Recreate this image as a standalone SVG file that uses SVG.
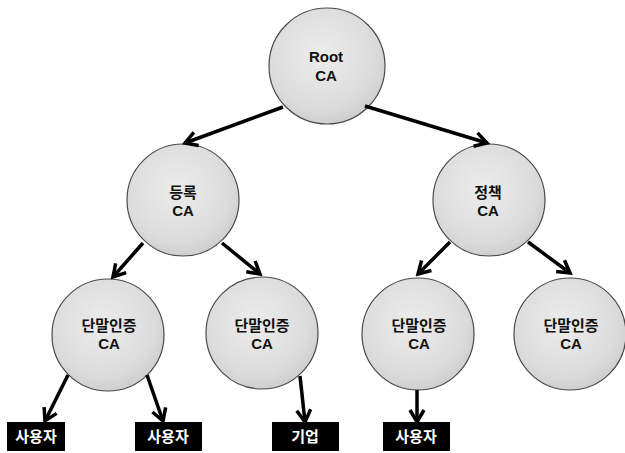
<svg xmlns="http://www.w3.org/2000/svg" width="625" height="453" viewBox="0 0 625 453">
<defs>
<radialGradient id="g" cx="0.45" cy="0.4" r="0.65">
<stop offset="0" stop-color="#ececec"/>
<stop offset="0.7" stop-color="#dcdcdc"/>
<stop offset="1" stop-color="#cbcbcb"/>
</radialGradient>
<marker id="ah" markerUnits="userSpaceOnUse" viewBox="0 0 18 18" markerWidth="18" markerHeight="18" refX="15" refY="9" orient="auto">
<path d="M3,2 L15,9 L3,16" fill="none" stroke="#000" stroke-width="3.5" stroke-linejoin="miter"/>
</marker>
</defs>
<style>
.node circle{fill:url(#g);stroke:#4a4a4a;stroke-width:1.2}
.t{font-family:"Noto Sans CJK KR",sans-serif;font-weight:bold;font-size:15px;fill:#111;text-anchor:middle}
.l{font-family:"Liberation Sans",Arial,sans-serif;font-weight:bold;font-size:15px;fill:#111;text-anchor:middle}
.box rect{fill:#000}
.bt{font-family:"Noto Sans CJK KR",sans-serif;font-weight:bold;font-size:15px;fill:#fff;text-anchor:middle}
.edges line{stroke:#000;stroke-width:3.5;marker-end:url(#ah)}
</style>
<rect width="625" height="453" fill="#fff"/>
<g id="root"  class="node"><circle cx="327" cy="66" r="58"/><text class="l" x="326" y="62">Root</text><text class="l" x="326" y="81">CA</text></g>
<g id="reg" class="node"><circle cx="183" cy="200" r="56"/><text class="t" x="183" y="197.5">등록</text><text class="l" x="183" y="216">CA</text></g>
<g id="pol" class="node"><circle cx="489" cy="200" r="56"/><text class="t" x="488" y="197.5">정책</text><text class="l" x="488" y="216">CA</text></g>
<g id="term1" class="node"><circle cx="108" cy="335" r="56"/><text class="t" x="109" y="330.5">단말인증</text><text class="l" x="109" y="349">CA</text></g>
<g id="term2" class="node"><circle cx="262" cy="333" r="56"/><text class="t" x="262" y="330.5">단말인증</text><text class="l" x="262" y="349">CA</text></g>
<g id="term3" class="node"><circle cx="418" cy="334" r="56"/><text class="t" x="419" y="330.5">단말인증</text><text class="l" x="419" y="349">CA</text></g>
<g id="term4" class="node"><circle cx="570" cy="334" r="56"/><text class="t" x="571" y="330.5">단말인증</text><text class="l" x="571" y="349">CA</text></g>
<g id="user1" class="box"><rect x="7" y="422" width="58" height="29"/><text class="bt" x="36" y="442">사용자</text></g>
<g id="user2" class="box"><rect x="135" y="422" width="67" height="29"/><text class="bt" x="168" y="442">사용자</text></g>
<g id="corp" class="box"><rect x="272" y="422" width="67" height="29"/><text class="bt" x="305" y="442">기업</text></g>
<g id="user3" class="box"><rect x="383" y="422" width="67" height="29"/><text class="bt" x="416" y="442">사용자</text></g>
<g id="connectors" class="edges">
<line x1="283" y1="107" x2="185" y2="143"/>
<line x1="365" y1="106" x2="487" y2="143"/>
<line x1="143" y1="243" x2="113" y2="277"/>
<line x1="222" y1="243" x2="260" y2="274"/>
<line x1="450" y1="242" x2="418" y2="274"/>
<line x1="528" y1="242" x2="570" y2="273"/>
<line x1="68" y1="375" x2="45" y2="421"/>
<line x1="147" y1="375" x2="163" y2="421"/>
<line x1="300" y1="376" x2="305" y2="422"/>
<line x1="417" y1="390" x2="417" y2="422"/>
</g>
</svg>
